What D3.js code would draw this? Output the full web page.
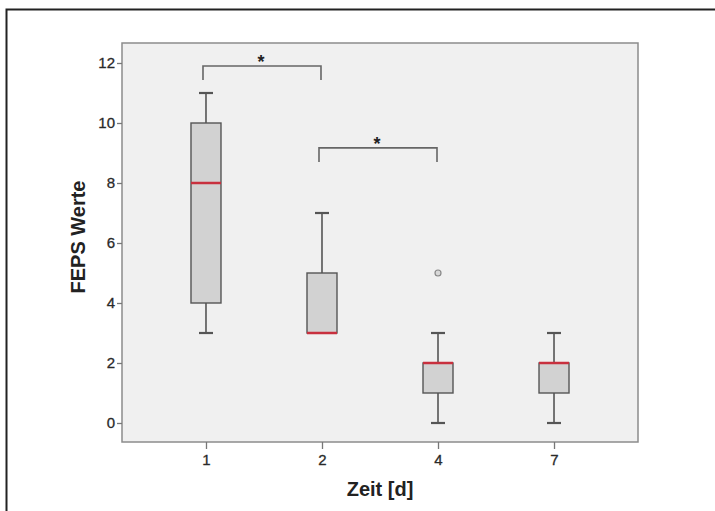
<!DOCTYPE html>
<html>
<head>
<meta charset="utf-8">
<script src="https://cdn.jsdelivr.net/npm/d3@7"></script>
<style>
  body { margin: 0; background: #fff; }
  svg { display: block; font-family: "Liberation Sans", Arial, sans-serif; }
</style>
</head>
<body>
<svg id="chart"></svg>
<script>
let w = 715;
let h = 511;

// data
let days = ["1", "2", "4", "7"];
let whiskerLow = [3, 3, 0, 0];
let q1 = [4, 3, 1, 1];
let medians = [8, 3, 2, 2];
let q3 = [10, 5, 2, 2];
let whiskerHigh = [11, 7, 3, 3];
let outlierDay = ["4"];
let outlierValue = [5];
let yTicks = [0, 2, 4, 6, 8, 10, 12];

// significance brackets: from day, to day, level, drop
let bracketFrom = ["1", "2"];
let bracketTo = ["2", "4"];
let bracketLevel = [11.9, 9.17];
let bracketDrop = [11.43, 8.7];

let plot = {left: 122, right: 638, top: 43, bottom: 442};

let svg = d3.select("#chart")
  .attr("width", w)
  .attr("height", h);

// outer frame
svg.append("rect")
  .attr("x", 6.5)
  .attr("y", 9.5)
  .attr("width", w + 20)
  .attr("height", h + 20)
  .attr("fill", "#fff")
  .attr("stroke", "#222")
  .attr("stroke-width", 2);

let xScale = d3.scalePoint()
  .domain(days)
  .range([plot.left, plot.right])
  .padding(0.724);

let yScale = d3.scaleLinear()
  .domain([0, 12])
  .range([423, 63]);

// plot background
svg.append("rect")
  .attr("x", plot.left)
  .attr("y", plot.top)
  .attr("width", plot.right - plot.left)
  .attr("height", plot.bottom - plot.top)
  .attr("fill", "#f0f0f0")
  .attr("stroke", "#8c8c8c")
  .attr("stroke-width", 1.5);

let yAxis = d3.axisLeft(yScale).tickValues(yTicks).tickSize(5).tickPadding(2);
let gy = svg.append("g")
  .attr("transform", "translate(" + plot.left + ",0)")
  .call(yAxis);
gy.select(".domain").remove();
gy.selectAll(".tick line").attr("stroke", "#777").attr("stroke-width", 1.3);
gy.selectAll(".tick text")
  .attr("fill", "#2a2a2a")
  .attr("stroke", "#2a2a2a")
  .attr("stroke-width", 0.3)
  .style("font-size", "15px");

let xAxis = d3.axisBottom(xScale).tickSize(7).tickPadding(5);
let gx = svg.append("g")
  .attr("transform", "translate(0," + plot.bottom + ")")
  .call(xAxis);
gx.select(".domain").remove();
gx.selectAll(".tick line").attr("stroke", "#777").attr("stroke-width", 1.3);
gx.selectAll(".tick text")
  .attr("fill", "#2a2a2a")
  .attr("stroke", "#2a2a2a")
  .attr("stroke-width", 0.3)
  .style("font-size", "15px");

// axis titles
svg.append("text")
  .attr("x", (plot.left + plot.right) / 2)
  .attr("y", 496)
  .attr("text-anchor", "middle")
  .attr("fill", "#222")
  .style("font-size", "20px")
  .style("font-weight", "bold")
  .text("Zeit [d]");

svg.append("text")
  .attr("transform", "translate(85,237) rotate(-90)")
  .attr("text-anchor", "middle")
  .attr("fill", "#222")
  .style("font-size", "20px")
  .style("font-weight", "bold")
  .text("FEPS Werte");

let boxW = 30;
let capW = 14;
let boxes = days.map((d, i) => ({
  day: d, lo: whiskerLow[i], q1: q1[i], med: medians[i], q3: q3[i], hi: whiskerHigh[i]
}));

let g = svg.append("g");
let stroke = "#555";

// whiskers
g.selectAll(".whisker-hi")
  .data(boxes.filter(d => d.hi > d.q3))
  .enter()
  .append("line")
  .attr("x1", d => xScale(d.day))
  .attr("x2", d => xScale(d.day))
  .attr("y1", d => yScale(d.q3))
  .attr("y2", d => yScale(d.hi))
  .attr("stroke", stroke)
  .attr("stroke-width", 1.6);
g.selectAll(".whisker-lo")
  .data(boxes.filter(d => d.lo < d.q1))
  .enter()
  .append("line")
  .attr("x1", d => xScale(d.day))
  .attr("x2", d => xScale(d.day))
  .attr("y1", d => yScale(d.q1))
  .attr("y2", d => yScale(d.lo))
  .attr("stroke", stroke)
  .attr("stroke-width", 1.6);

// caps
g.selectAll(".cap-hi")
  .data(boxes.filter(d => d.hi > d.q3))
  .enter()
  .append("line")
  .attr("x1", d => xScale(d.day) - capW / 2)
  .attr("x2", d => xScale(d.day) + capW / 2)
  .attr("y1", d => yScale(d.hi))
  .attr("y2", d => yScale(d.hi))
  .attr("stroke", stroke)
  .attr("stroke-width", 2.2);
g.selectAll(".cap-lo")
  .data(boxes.filter(d => d.lo < d.q1))
  .enter()
  .append("line")
  .attr("x1", d => xScale(d.day) - capW / 2)
  .attr("x2", d => xScale(d.day) + capW / 2)
  .attr("y1", d => yScale(d.lo))
  .attr("y2", d => yScale(d.lo))
  .attr("stroke", stroke)
  .attr("stroke-width", 2.2);

// boxes
g.selectAll(".box")
  .data(boxes)
  .enter()
  .append("rect")
  .attr("x", d => xScale(d.day) - boxW / 2)
  .attr("y", d => yScale(d.q3))
  .attr("width", boxW)
  .attr("height", d => yScale(d.q1) - yScale(d.q3))
  .attr("fill", "#d2d2d2")
  .attr("stroke", stroke)
  .attr("stroke-width", 1.4);

// medians
g.selectAll(".median")
  .data(boxes)
  .enter()
  .append("line")
  .attr("x1", d => xScale(d.day) - boxW / 2)
  .attr("x2", d => xScale(d.day) + boxW / 2)
  .attr("y1", d => yScale(d.med))
  .attr("y2", d => yScale(d.med))
  .attr("stroke", "#c8303e")
  .attr("stroke-width", 2.5);

// outliers
g.selectAll(".outlier")
  .data(outlierDay.map((d, i) => ({day: d, v: outlierValue[i]})))
  .enter()
  .append("circle")
  .attr("cx", d => xScale(d.day))
  .attr("cy", d => yScale(d.v))
  .attr("r", 3)
  .attr("fill", "#d8d8d8")
  .attr("stroke", "#888")
  .attr("stroke-width", 1.2);

// significance brackets
let brackets = bracketFrom.map((d, i) => ({
  from: d, to: bracketTo[i], level: bracketLevel[i], drop: bracketDrop[i]
}));
g.selectAll(".bracket")
  .data(brackets)
  .enter()
  .append("path")
  .attr("d", d => {
    let x1 = xScale(d.from) - 3;
    let x2 = xScale(d.to) - 1;
    return "M" + x1 + "," + yScale(d.drop) + "V" + yScale(d.level) +
      "H" + x2 + "V" + yScale(d.drop);
  })
  .attr("fill", "none")
  .attr("stroke", "#666")
  .attr("stroke-width", 1.6);
g.selectAll(".star")
  .data(brackets)
  .enter()
  .append("text")
  .attr("x", d => (xScale(d.from) + xScale(d.to)) / 2 - 3)
  .attr("y", d => yScale(d.level) + 2)
  .attr("text-anchor", "middle")
  .attr("fill", "#222")
  .style("font-size", "18px")
  .style("font-weight", "bold")
  .text("*");
</script>
</body>
</html>
